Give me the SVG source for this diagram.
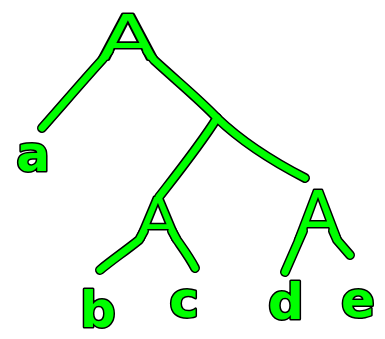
<svg xmlns="http://www.w3.org/2000/svg" width="385" height="339" viewBox="0 0 385 339">
<style>
.edge-bg{fill:none;stroke:#000;stroke-width:10;stroke-linecap:round;stroke-linejoin:round}
.edge{fill:none;stroke:#00ff00;stroke-width:7;stroke-linecap:round;stroke-linejoin:round}
.lbl{font-family:"DejaVu Sans",sans-serif;fill:#00ff00;stroke:#000;stroke-width:3;paint-order:stroke;stroke-linejoin:round;text-anchor:middle}
.leaf{font-weight:bold}
</style>
<defs>
<path id="p1" d="M109,51 L102,60 C82,82 65,102 42,128"/>
<path id="p2" d="M147,51 L154,60 C178,82 200,100 217,118"/>
<path id="p3" d="M217,118 C200,145 180,170 159,197"/>
<path id="p4" d="M217,118 C240,140 270,160 305,178"/>
<path id="p5" d="M144,231 L139,240 C124,252 112,260 100,270"/>
<path id="p6" d="M172,231 L177,240 C184,250 190,258 195,268"/>
<path id="p7" d="M303,231 L299,240 L285,272"/>
<path id="p8" d="M333,231 L337,240 L350,255"/>
</defs>
<rect width="385" height="339" fill="#fff"/>
<g id="connectors">
<g class="edge-bg">
<use href="#p1"/><use href="#p2"/><use href="#p3"/><use href="#p4"/>
<use href="#p5"/><use href="#p6"/><use href="#p7"/><use href="#p8"/>
</g>
</g>
<g id="node-A-root"><text class="lbl" font-size="62" transform="translate(128,60) scale(1.4,1)">A</text></g>
<g id="node-A-left"><text class="lbl" font-size="59" transform="translate(158,240) scale(1.1,1)">A</text></g>
<g id="node-A-right"><text class="lbl" font-size="68" x="318" y="240">A</text></g>
<g id="connectors-fill" class="edge">
<use href="#p1"/><use href="#p2"/><use href="#p3"/><use href="#p4"/>
<use href="#p5"/><use href="#p6"/><use href="#p7"/><use href="#p8"/>
</g>
<g id="leaf-a"><text class="lbl leaf" font-size="50" x="33" y="171">a</text></g>
<g id="leaf-b"><text class="lbl leaf" font-size="50" x="98" y="327">b</text></g>
<g id="leaf-c"><text class="lbl leaf" font-size="50" x="184" y="317">c</text></g>
<g id="leaf-d"><text class="lbl leaf" font-size="50" x="286" y="319">d</text></g>
<g id="leaf-e"><text class="lbl leaf" font-size="50" x="358" y="317">e</text></g>
</svg>
